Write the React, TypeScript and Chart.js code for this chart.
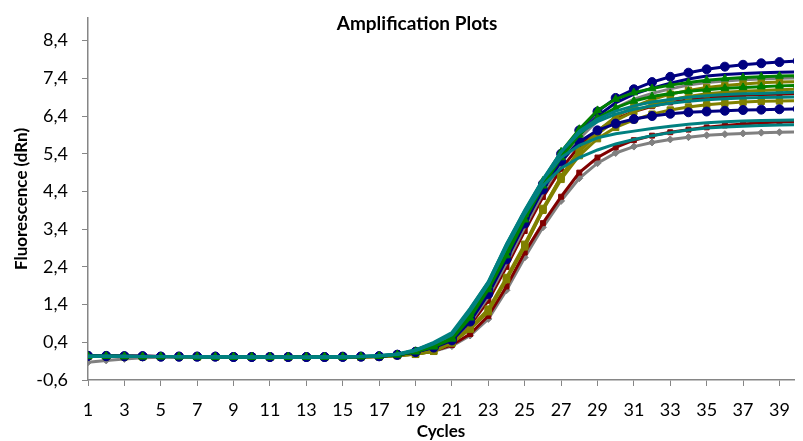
import React, { useEffect, useRef } from "react";
import { Chart, registerables } from "chart.js";

Chart.register(...registerables);

// PCR cycle numbers
const cycles = [
  1, 2, 3, 4, 5, 6, 7, 8, 9, 10, 11, 12, 13, 14, 15, 16, 17, 18, 19, 20,
  21, 22, 23, 24, 25, 26, 27, 28, 29, 30, 31, 32, 33, 34, 35, 36, 37, 38, 39, 40,
];

// labelled cycles on the x axis
const xTickLabels = [1, 3, 5, 7, 9, 11, 13, 15, 17, 19, 21, 23, 25, 27, 29, 31, 33, 35, 37, 39];

// fluorescence tick values on the y axis
const yTickValues = [-0.6, 0.4, 1.4, 2.4, 3.4, 4.4, 5.4, 6.4, 7.4, 8.4];

// dRn readings per well, one value per cycle
const tealA = [0.03, 0.03, 0.03, 0.02, 0.02, 0.02, 0.02, 0.01, 0.01, 0.01, 0.01, 0.01, 0.01, 0.01, 0.02, 0.02, 0.04, 0.09, 0.2, 0.4, 0.66, 1.3, 2.0, 3.0, 3.88, 4.71, 5.3, 5.62, 5.82, 5.93, 6.0, 6.07, 6.13, 6.18, 6.22, 6.25, 6.27, 6.28, 6.29, 6.3];
const tealB = [0.03, 0.03, 0.02, 0.02, 0.02, 0.02, 0.01, 0.01, 0.01, 0.01, 0.01, 0.0, 0.0, 0.01, 0.01, 0.02, 0.04, 0.08, 0.19, 0.38, 0.63, 1.26, 1.95, 2.92, 3.8, 4.55, 5.02, 5.3, 5.5, 5.66, 5.78, 5.88, 5.96, 6.03, 6.08, 6.11, 6.13, 6.15, 6.16, 6.17];
const tealC = [0.03, 0.03, 0.03, 0.02, 0.02, 0.02, 0.02, 0.02, 0.01, 0.01, 0.01, 0.01, 0.01, 0.01, 0.01, 0.02, 0.04, 0.08, 0.19, 0.38, 0.62, 1.28, 2.0, 3.0, 3.9, 4.72, 5.45, 5.95, 6.25, 6.45, 6.58, 6.67, 6.74, 6.79, 6.83, 6.86, 6.88, 6.89, 6.9, 6.91];
const tealD = [0.02, 0.02, 0.02, 0.02, 0.02, 0.01, 0.01, 0.01, 0.01, 0.01, 0.01, 0.01, 0.0, 0.01, 0.01, 0.02, 0.04, 0.08, 0.18, 0.36, 0.6, 1.22, 1.94, 2.94, 3.86, 4.7, 5.45, 6.0, 6.32, 6.53, 6.67, 6.77, 6.84, 6.9, 6.94, 6.97, 6.99, 7.0, 7.02, 7.03];
const greenF = [0.03, 0.03, 0.02, 0.02, 0.02, 0.02, 0.02, 0.01, 0.01, 0.01, 0.01, 0.01, 0.01, 0.01, 0.01, 0.02, 0.03, 0.07, 0.16, 0.3, 0.52, 1.15, 1.9, 2.85, 3.8, 4.68, 5.45, 6.05, 6.55, 6.85, 7.02, 7.13, 7.22, 7.29, 7.35, 7.39, 7.42, 7.44, 7.46, 7.47];
const greenI = [0.03, 0.03, 0.03, 0.02, 0.02, 0.02, 0.01, 0.01, 0.01, 0.01, 0.01, 0.01, 0.01, 0.01, 0.01, 0.02, 0.03, 0.07, 0.15, 0.28, 0.49, 1.05, 1.8, 2.7, 3.65, 4.55, 5.3, 5.9, 6.35, 6.62, 6.8, 6.92, 7.0, 7.06, 7.1, 7.14, 7.16, 7.18, 7.2, 7.21];
const navyTop = [0.04, 0.04, 0.03, 0.03, 0.02, 0.02, 0.02, 0.02, 0.01, 0.01, 0.01, 0.01, 0.01, 0.01, 0.02, 0.02, 0.03, 0.07, 0.15, 0.28, 0.5, 1.05, 1.8, 2.75, 3.7, 4.6, 5.4, 6.02, 6.52, 6.88, 7.11, 7.3, 7.44, 7.55, 7.64, 7.71, 7.76, 7.8, 7.83, 7.86];
const navyLine = [0.03, 0.03, 0.03, 0.02, 0.02, 0.02, 0.02, 0.01, 0.01, 0.01, 0.01, 0.01, 0.01, 0.01, 0.01, 0.02, 0.03, 0.07, 0.14, 0.27, 0.48, 1.0, 1.72, 2.65, 3.6, 4.5, 5.3, 5.92, 6.4, 6.75, 6.98, 7.14, 7.27, 7.38, 7.46, 7.5, 7.53, 7.55, 7.56, 7.57];
const navyLow = [0.04, 0.03, 0.03, 0.03, 0.02, 0.02, 0.02, 0.02, 0.01, 0.01, 0.01, 0.01, 0.01, 0.01, 0.01, 0.02, 0.03, 0.07, 0.14, 0.26, 0.45, 0.95, 1.68, 2.6, 3.55, 4.45, 5.2, 5.72, 6.02, 6.2, 6.32, 6.4, 6.46, 6.5, 6.52, 6.54, 6.56, 6.57, 6.58, 6.59];
const oliveH = [0.03, 0.03, 0.02, 0.02, 0.02, 0.02, 0.01, 0.01, 0.01, 0.01, 0.01, 0.0, 0.0, 0.0, 0.01, 0.01, 0.02, 0.05, 0.08, 0.16, 0.39, 0.75, 1.21, 2.06, 2.93, 3.91, 4.8, 5.5, 6.0, 6.38, 6.65, 6.84, 6.98, 7.08, 7.16, 7.21, 7.25, 7.28, 7.3, 7.31];
const oliveJ = [0.03, 0.03, 0.03, 0.02, 0.02, 0.02, 0.02, 0.01, 0.01, 0.01, 0.01, 0.01, 0.0, 0.0, 0.01, 0.01, 0.02, 0.05, 0.09, 0.17, 0.4, 0.78, 1.28, 2.12, 3.0, 3.95, 4.78, 5.45, 5.92, 6.28, 6.52, 6.7, 6.83, 6.92, 6.99, 7.03, 7.06, 7.08, 7.1, 7.11];
const oliveL = [0.03, 0.02, 0.02, 0.02, 0.02, 0.02, 0.01, 0.01, 0.01, 0.01, 0.0, 0.0, 0.0, 0.0, 0.01, 0.01, 0.02, 0.05, 0.08, 0.16, 0.38, 0.76, 1.25, 2.08, 2.95, 3.9, 4.72, 5.35, 5.8, 6.1, 6.3, 6.45, 6.56, 6.64, 6.7, 6.74, 6.77, 6.79, 6.8, 6.81];
const grayG = [0.03, 0.03, 0.02, 0.02, 0.02, 0.02, 0.02, 0.01, 0.01, 0.01, 0.01, 0.01, 0.01, 0.01, 0.01, 0.02, 0.03, 0.06, 0.12, 0.23, 0.42, 0.92, 1.6, 2.5, 3.45, 4.35, 5.15, 5.8, 6.28, 6.62, 6.85, 7.0, 7.12, 7.22, 7.29, 7.33, 7.36, 7.38, 7.4, 7.41];
const redK = [0.04, 0.03, 0.03, 0.03, 0.02, 0.02, 0.02, 0.02, 0.01, 0.01, 0.01, 0.01, 0.01, 0.01, 0.01, 0.02, 0.03, 0.06, 0.12, 0.23, 0.42, 0.85, 1.5, 2.4, 3.35, 4.25, 5.0, 5.6, 6.02, 6.32, 6.52, 6.66, 6.76, 6.83, 6.88, 6.92, 6.95, 6.97, 6.98, 6.99];
const redN = [0.04, 0.04, 0.03, 0.03, 0.02, 0.02, 0.02, 0.02, 0.01, 0.01, 0.01, 0.01, 0.0, 0.0, 0.01, 0.01, 0.02, 0.05, 0.1, 0.17, 0.33, 0.62, 1.1, 1.88, 2.78, 3.56, 4.26, 4.9, 5.3, 5.57, 5.76, 5.88, 5.97, 6.04, 6.1, 6.15, 6.19, 6.22, 6.24, 6.25];
const grayO = [-0.13, -0.08, -0.04, -0.01, 0.0, 0.0, 0.0, 0.0, 0.0, 0.0, 0.0, 0.0, 0.0, 0.0, 0.0, 0.01, 0.02, 0.04, 0.09, 0.16, 0.3, 0.58, 1.02, 1.78, 2.65, 3.45, 4.15, 4.75, 5.15, 5.42, 5.59, 5.7, 5.78, 5.84, 5.89, 5.92, 5.94, 5.96, 5.97, 5.98];

const TEAL = "#008080";
const GREEN = "#008000";
const NAVY = "#000080";
const OLIVE = "#808000";
const GRAY = "#808080";
const MAROON = "#800000";
const AXIS = "#868686";
const FONT = "Lato, 'Noto Sans', sans-serif";

// plot box edges in canvas pixels
const PLOT_TOP = 18;
const PLOT_LEFT = 88;
const PLOT_BOTTOM = 380;

type Marker = false | "circle" | "rect" | "triangle" | "rectRot";

function series(label: string, data: number[], color: string, marker: Marker, radius = 4) {
  return {
    label,
    data,
    borderColor: color,
    backgroundColor: color,
    borderWidth: 3,
    tension: 0,
    pointStyle: marker || "circle",
    pointRadius: marker ? radius : 0,
    pointBorderWidth: 1,
    pointBorderColor: color,
    pointBackgroundColor: color,
  };
}

// chart heading drawn above the plot area
const headingPlugin = {
  id: "heading",
  afterDraw(chart: Chart) {
    const { ctx } = chart;
    ctx.save();
    ctx.font = `bold 19px ${FONT}`;
    ctx.fillStyle = "#000";
    ctx.textAlign = "center";
    ctx.textBaseline = "middle";
    ctx.fillText("Amplification Plots", 417, 24);
    ctx.restore();
  },
};

// pins the plot box to fixed edges after layout
const boxPlugin = {
  id: "plotBox",
  afterLayout(chart: any) {
    const area = chart.chartArea;
    const x = chart.scales.x;
    const y = chart.scales.y;
    area.top = PLOT_TOP;
    area.bottom = PLOT_BOTTOM;
    area.left = PLOT_LEFT;
    area.height = PLOT_BOTTOM - PLOT_TOP;
    area.width = area.right - PLOT_LEFT;
    y.top = PLOT_TOP;
    y.bottom = PLOT_BOTTOM;
    y.height = PLOT_BOTTOM - PLOT_TOP;
    y.right = PLOT_LEFT;
    y.left = 0;
    y.width = PLOT_LEFT;
    x.left = PLOT_LEFT;
    x.width = x.right - PLOT_LEFT;
    x.top = PLOT_BOTTOM;
    x.bottom = 441;
    x.height = 441 - PLOT_BOTTOM;
    y.configure();
    x.configure();
  },
};

export default function App() {
  const canvasRef = useRef<HTMLCanvasElement | null>(null);

  useEffect(() => {
    if (!canvasRef.current) return;
    const chart = new Chart(canvasRef.current, {
      type: "line",
      data: {
        labels: cycles,
        datasets: [
          series("Well 1", tealA, TEAL, false),
          series("Well 2", tealB, TEAL, false),
          series("Well 3", tealC, TEAL, false),
          series("Well 4", tealD, TEAL, false),
          series("Well 5", greenF, GREEN, "triangle", 4.5),
          series("Well 6", greenI, GREEN, "triangle", 4.5),
          series("Well 7", navyTop, NAVY, "circle", 4.5),
          series("Well 8", navyLine, NAVY, false),
          series("Well 9", navyLow, NAVY, "circle", 4.5),
          series("Well 10", oliveH, OLIVE, "rect", 4.5),
          series("Well 11", oliveJ, OLIVE, "rect", 4.5),
          series("Well 12", oliveL, OLIVE, "rect", 4.5),
          series("Well 13", grayG, GRAY, false),
          series("Well 14", redK, MAROON, "rect", 3.5),
          series("Well 15", redN, MAROON, "rect", 3.5),
          series("Well 16", grayO, GRAY, "rectRot", 3.5),
        ],
      },
      options: {
        responsive: false,
        animation: false,
        devicePixelRatio: 1,
        layout: { padding: { top: 18, left: 0, right: 0, bottom: 0 } },
        plugins: {
          legend: { display: false },
          tooltip: { enabled: false },
        },
        scales: {
          x: {
            type: "linear",
            min: 1,
            max: 39.8,
            afterBuildTicks: (scale: any) => {
              scale.ticks = xTickLabels.map((v) => ({ value: v }));
            },
            afterFit: (scale: any) => {
              scale.height = 61;
            },
            ticks: {
              autoSkip: false,
              maxRotation: 0,
              padding: 13,
              color: "#000",
              font: { family: FONT, size: 18 },
              callback: (v: any) => String(v),
            },
            grid: {
              display: true,
              drawOnChartArea: false,
              drawTicks: true,
              tickLength: 6,
              color: AXIS,
            },
            border: { display: true, color: AXIS, width: 1.5 },
            title: {
              display: true,
              text: "Cycles",
              color: "#000",
              font: { family: FONT, size: 17, weight: "bold" },
              padding: { top: 0, bottom: -1 },
            },
          },
          y: {
            type: "linear",
            min: -0.6,
            max: 9.0,
            afterBuildTicks: (scale: any) => {
              scale.ticks = yTickValues.map((v) => ({ value: v }));
            },
            afterFit: (scale: any) => {
              scale.width = 88;
            },
            ticks: {
              padding: 14,
              color: "#000",
              font: { family: FONT, size: 18 },
              callback: (v: any) => Number(v).toFixed(1).replace(".", ","),
            },
            grid: {
              display: true,
              drawOnChartArea: false,
              drawTicks: true,
              tickLength: 6,
              color: AXIS,
            },
            border: { display: true, color: AXIS, width: 1.5 },
            title: {
              display: true,
              text: "Fluorescence (dRn)",
              color: "#000",
              font: { family: FONT, size: 17, weight: "bold" },
              padding: { top: 11, bottom: 0 },
            },
          },
        },
      },
      plugins: [headingPlugin, boxPlugin],
    });
    return () => chart.destroy();
  }, []);

  return (
    <div style={{ position: "absolute", left: 0, top: 0, width: 803, height: 441, background: "#fff" }}>
      <canvas ref={canvasRef} width={803} height={441} />
    </div>
  );
}
